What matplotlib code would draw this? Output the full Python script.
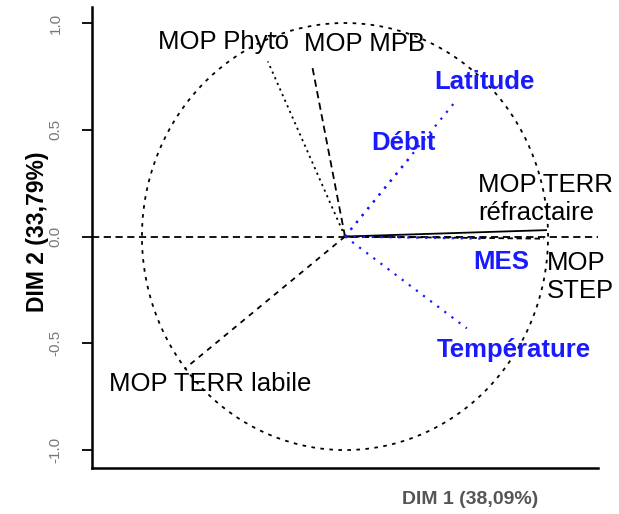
import numpy as np
import matplotlib
matplotlib.use("Agg")
import matplotlib.pyplot as plt

plt.rcParams['font.family'] = ['Liberation Sans', 'DejaVu Sans']

# Correlation circle of the PCA: variable coordinates on DIM 1 / DIM 2
mop_names = ["MOP Phyto", "MOP MPB", "MOP TERR\nréfractaire", "MOP\nSTEP", "MOP TERR labile"]
mop_x = [-0.38, -0.16, 0.99, 0.98, -0.79]
mop_y = [0.82, 0.79, 0.03, -0.01, -0.62]
mop_styles = [(0, (1.2, 2.2)), (0, (4, 2.5)), "-", (0, (3, 2)), (0, (3, 3))]

env_names = ["Latitude", "Débit", "MES", "Température"]
env_x = [0.55, 0.32, 0.68, 0.60]
env_y = [0.64, 0.37, -0.01, -0.43]

# label anchors (left edge, vertical centre)
mop_lab_x = [-0.92, -0.20, 0.655, 0.995, -1.16]
mop_lab_y = [0.91, 0.90, 0.175, -0.19, -0.69]
env_lab_x = [0.44, 0.13, 0.63, 0.45]
env_lab_y = [0.725, 0.44, -0.12, -0.53]

y_ticks = [-1.0, -0.5, 0.0, 0.5, 1.0]
y_label = "DIM 2 (33,79%)"
x_label = "DIM 1 (38,09%)"

fig = plt.figure(figsize=(6.19, 5.14), dpi=100)
ax = fig.add_axes([92 / 619, 1 - 468 / 514, (598 - 92) / 619, (468 - 7) / 514])
ax.set_xlim(-1.246, 1.246)
ax.set_ylim(-1.084, 1.075)

# unit circle
t = np.linspace(0, 2 * np.pi, 400)
ax.plot(np.cos(t), np.sin(t), color="black", lw=1.3, ls=(0, (2, 3)))
# horizontal reference line
ax.axhline(0, color="black", lw=1.3, ls=(0, (4, 2.5)))

for x, y, ls in zip(mop_x, mop_y, mop_styles):
    ax.plot([0, x], [0, y], color="black", lw=1.3, ls=ls)
for x, y in zip(env_x, env_y):
    ax.plot([0, x], [0, y], color="#1a1aff", lw=1.6, ls=(0, (1, 3)))

for name, x, y in zip(mop_names, mop_lab_x, mop_lab_y):
    ax.text(x, y, name, ha="left", va="center", fontsize=18.5,
            color="black", linespacing=1.2)
for name, x, y in zip(env_names, env_lab_x, env_lab_y):
    ax.text(x, y, name, ha="left", va="center", fontsize=18.5,
            color="#1a1aff", fontweight="bold")

ax.set_yticks(y_ticks)
ax.set_yticklabels([f"{v:.1f}" for v in y_ticks], rotation=90, va="center",
                   fontsize=11, color="#777777")
ax.set_xticks([])
ax.tick_params(axis="y", length=7, width=1.3, pad=14)
for side in ("top", "right"):
    ax.spines[side].set_visible(False)
for side in ("left", "bottom"):
    ax.spines[side].set_linewidth(1.8)

fig.text(38 / 619, 1 - 232 / 514, y_label, rotation=90, ha="center", va="center",
         fontsize=16.5, fontweight="bold")
fig.text(470 / 619, 1 - 499 / 514, x_label, ha="center", va="center",
         fontsize=14, fontweight="bold", color="#555555")

fig.savefig("out.png", dpi=100)
